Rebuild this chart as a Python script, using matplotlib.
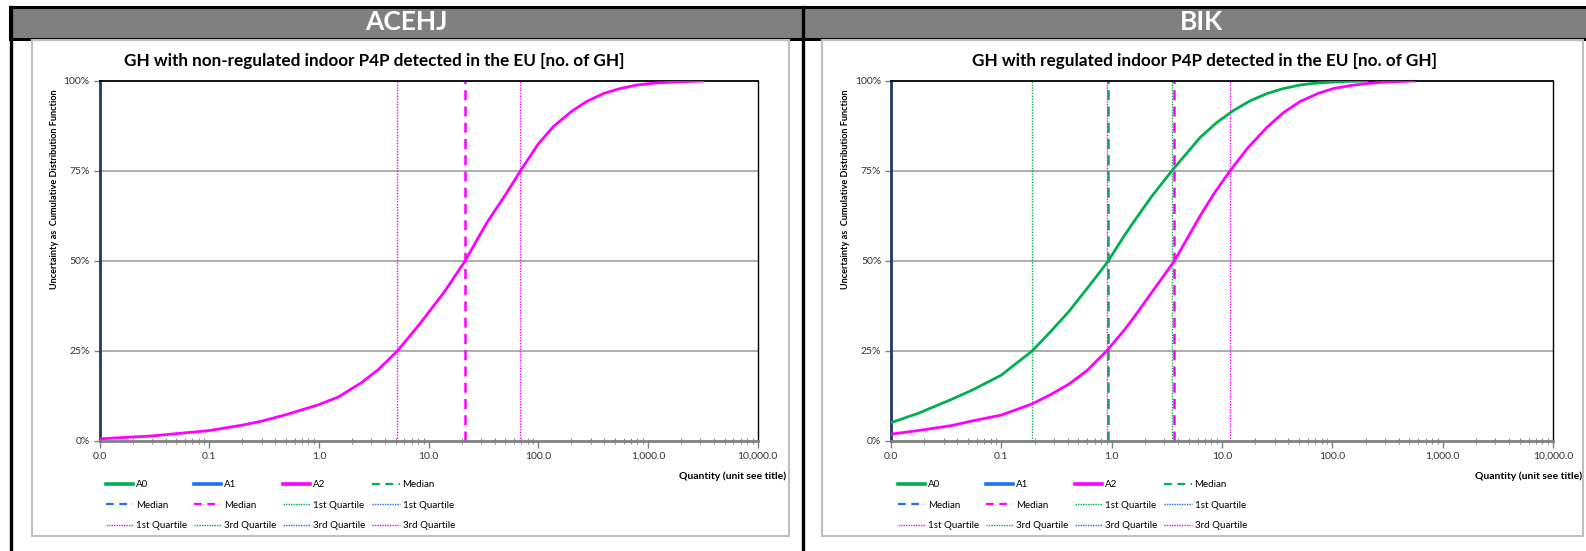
import matplotlib
matplotlib.use("Agg")
import matplotlib.pyplot as plt
from matplotlib.lines import Line2D
from matplotlib.patches import Rectangle
from matplotlib.ticker import PercentFormatter, LogLocator, NullFormatter

FONT = ['Lato', 'DejaVu Sans']
plt.rcParams['font.family'] = FONT

# ---------------- data ----------------
panel_names = ["ACEHJ", "BIK"]
chart_titles = ["GH with non-regulated indoor P4P detected in the EU [no. of GH]",
                "GH with regulated indoor P4P detected in the EU [no. of GH]"]
y_label = "Uncertainty as  Cumulative Distribution Function"
x_label = "Quantity (unit see title)"
x_tick_values = [0.01, 0.1, 1, 10, 100, 1000, 10000]
x_tick_labels = ["0.0", "0.1", "1.0", "10.0", "100.0", "1,000.0", "10,000.0"]
y_tick_values = [0, 25, 50, 75, 100]

# left panel (ACEHJ): only A2 (cumulative %)
left_a2_x = [0.01, 0.03, 0.1, 0.2, 0.3, 0.5, 1.0, 1.5, 2.47, 3.5, 5.2, 8.3, 14, 21.5,
             33.8, 50, 68.7, 100, 137, 200, 276, 400, 556, 800, 1117, 2000, 3190]
left_a2_y = [0.6, 1.4, 2.9, 4.4, 5.5, 7.3, 10.1, 12.2, 16.3, 19.9, 25, 32.5, 41.5, 50,
             60.5, 68.3, 75, 82.5, 87.3, 91.5, 94.3, 96.6, 97.9, 98.9, 99.4, 99.8, 100]
left_a2_median = 21.5
left_a2_q1 = 5.2
left_a2_q3 = 68.7

# right panel (BIK): A0 and A2
right_a0_x = [0.01, 0.0177, 0.0356, 0.055, 0.1, 0.19, 0.28, 0.41, 0.6, 0.785, 0.93, 1.3,
              1.57, 2.3, 3.5, 6.33, 9, 12.7, 18, 25.5, 35, 51, 70, 102, 140, 206]
right_a0_y = [5.1, 7.7, 11.6, 14.2, 18.3, 25, 30.4, 36, 42.4, 47, 50, 57.0,
              60.7, 67.9, 75, 84.3, 88.5, 91.8, 94.5, 96.5, 97.8, 98.9, 99.4, 99.7, 99.9, 100]
right_a2_x = [0.01, 0.0177, 0.0356, 0.055, 0.1, 0.19, 0.28, 0.41, 0.6, 0.785, 0.9, 1.3,
              1.57, 2.4, 3.7, 6.33, 8.5, 11.8, 17, 25.5, 36, 51, 75, 102, 150, 206, 300, 545]
right_a2_y = [1.9, 2.9, 4.3, 5.6, 7.2, 10.3, 12.9, 15.8, 19.6, 23.2, 25, 30.8,
              34.1, 42, 50, 62.5, 68.8, 75, 81.3, 87.1, 91.2, 94.3, 96.6, 97.9, 98.8, 99.3,
              99.7, 100]
right_a0_median, right_a0_q1, right_a0_q3 = 0.93, 0.19, 3.5
right_a2_median, right_a2_q1, right_a2_q3 = 3.7, 0.9, 11.8

legend_labels = ["A0", "A1", "A2", "Median", "Median", "Median",
                 "1st Quartile", "1st Quartile", "1st Quartile",
                 "3rd Quartile", "3rd Quartile", "3rd Quartile"]

# ---------------- style ----------------
GREEN = "#00B050"
BLUE = "#1F6FEF"
MAGENTA = "#FF00FF"
NAVY = "#1F3864"

W, H = 1586, 551
fig = plt.figure(figsize=(W / 100, H / 100), dpi=100)


def fx(px):
    return px / W


def fy(py):
    return 1 - py / H


# outer frame / header
fig.patches.append(Rectangle((fx(10), fy(38.5)), fx(1600 - 10), (38.5 - 7) / H,
                             transform=fig.transFigure, facecolor="#808080",
                             edgecolor="black", lw=2.2, zorder=-2))
for xp in (11, 803):
    fig.lines.append(Line2D([fx(xp), fx(xp)], [fy(7), 0], transform=fig.transFigure,
                            color="black", lw=2.4, zorder=-1))
fig.text(fx(406), fy(22), panel_names[0], ha="center", va="center",
         color="white", fontsize=19, fontweight="bold")
fig.text(fx(1201), fy(22), panel_names[1], ha="center", va="center",
         color="white", fontsize=19, fontweight="bold")

# inner chart boxes
for x0, x1 in ((31.7, 789.3), (821.7, 1583)):
    fig.patches.append(Rectangle((fx(x0), fy(536)), fx(x1 - x0), (536 - 40) / H,
                                 transform=fig.transFigure, facecolor="none",
                                 edgecolor="#BFBFBF", lw=1.5, zorder=-1))

fig.text(fx(374), fy(61), chart_titles[0], ha="center", va="center",
         fontsize=12.3, fontweight="bold")
fig.text(fx(1204), fy(61), chart_titles[1], ha="center", va="center",
         fontsize=12.3, fontweight="bold")

ax_l = fig.add_axes([fx(99.5), fy(441), fx(658.1), 360 / H])
ax_r = fig.add_axes([fx(891), fy(441), fx(662), 360 / H])


def style_axes(ax):
    ax.set_xscale("log")
    ax.set_xlim(0.01, 10000)
    ax.set_ylim(0, 100)
    ax.set_xticks(x_tick_values)
    ax.set_xticklabels(x_tick_labels)
    ax.xaxis.set_minor_locator(LogLocator(base=10, subs=[2, 3, 4, 5, 6, 7, 8, 9], numticks=20))
    ax.xaxis.set_minor_formatter(NullFormatter())
    ax.set_yticks(y_tick_values)
    ax.yaxis.set_major_formatter(PercentFormatter(100, decimals=0))
    ax.tick_params(axis="x", which="major", direction="out", length=5, width=1,
                   color="#808080", labelsize=7.5, labelcolor="#333333", pad=3)
    ax.tick_params(axis="x", which="minor", direction="inout", length=4, width=0.8,
                   color="#909090")
    ax.tick_params(axis="y", which="major", direction="out", length=4, width=1,
                   color="#808080", labelsize=7.5, labelcolor="#333333", pad=3)
    for yv in y_tick_values[1:-1]:
        ax.axhline(yv, color="#A0A0A0", lw=1.2, zorder=1)
    ax.spines["left"].set_color(NAVY)
    ax.spines["left"].set_linewidth(2.0)
    ax.spines["top"].set_color("black")
    ax.spines["top"].set_linewidth(1.3)
    ax.spines["right"].set_color("black")
    ax.spines["right"].set_linewidth(1.0)
    ax.spines["bottom"].set_color("#808080")
    ax.spines["bottom"].set_linewidth(2.0)
    ax.set_ylabel(y_label, fontsize=6.6, fontweight="bold")
    ax.yaxis.set_label_coords(-0.062, 0.70)
    ax.set_xlabel(x_label, fontsize=7.5, fontweight="bold", ha="right")
    ax.xaxis.set_label_coords(1.044, -0.085)
    ax.xaxis.label.set_va("top")


def vline(ax, x, color, kind):
    if kind == "median":
        ax.axvline(x, color=color, lw=1.8, ls=(0, (4, 2.5)), zorder=2)
    else:
        ax.axvline(x, color=color, lw=1.0, ls=(0, (1, 1)), zorder=2)


style_axes(ax_l)
style_axes(ax_r)

# left panel
vline(ax_l, left_a2_q1, MAGENTA, "q")
vline(ax_l, left_a2_median, MAGENTA, "median")
vline(ax_l, left_a2_q3, MAGENTA, "q")
ax_l.plot(left_a2_x, left_a2_y, color=MAGENTA, lw=2.0, zorder=3)

# right panel
vline(ax_r, right_a0_q1, GREEN, "q")
vline(ax_r, right_a0_median, GREEN, "median")
vline(ax_r, right_a0_q3, GREEN, "q")
vline(ax_r, right_a2_q1, MAGENTA, "q")
vline(ax_r, right_a2_median, MAGENTA, "median")
vline(ax_r, right_a2_q3, MAGENTA, "q")
ax_r.plot(right_a0_x, right_a0_y, color=GREEN, lw=2.0, zorder=3)
ax_r.plot(right_a2_x, right_a2_y, color=MAGENTA, lw=2.0, zorder=3)


def legend_handles():
    cols = [GREEN, BLUE, MAGENTA]
    hs = [Line2D([], [], color=c, lw=2.6) for c in cols]
    hs += [Line2D([], [], color=c, lw=1.6, ls=(0, (3.5, 2.5))) for c in cols]
    hs += [Line2D([], [], color=c, lw=1.0, ls=(0, (1, 0.8))) for c in cols]
    hs += [Line2D([], [], color=c, lw=1.0, ls=(0, (1, 0.8))) for c in cols]
    return hs


order = [0, 4, 8, 1, 5, 9, 2, 6, 10, 3, 7, 11]
for ax, x_left in ((ax_l, 106), (ax_r, 898)):
    hs = legend_handles()
    leg = fig.legend([hs[i] for i in order], [legend_labels[i] for i in order],
                     ncol=4, loc="upper left",
                     bbox_to_anchor=(fx(x_left), fy(480)),
                     frameon=False, fontsize=7, handlelength=2.8,
                     handletextpad=0.3, columnspacing=0.7, labelspacing=1.2,
                     borderpad=0, borderaxespad=0)

fig.savefig("out.png", dpi=100)
